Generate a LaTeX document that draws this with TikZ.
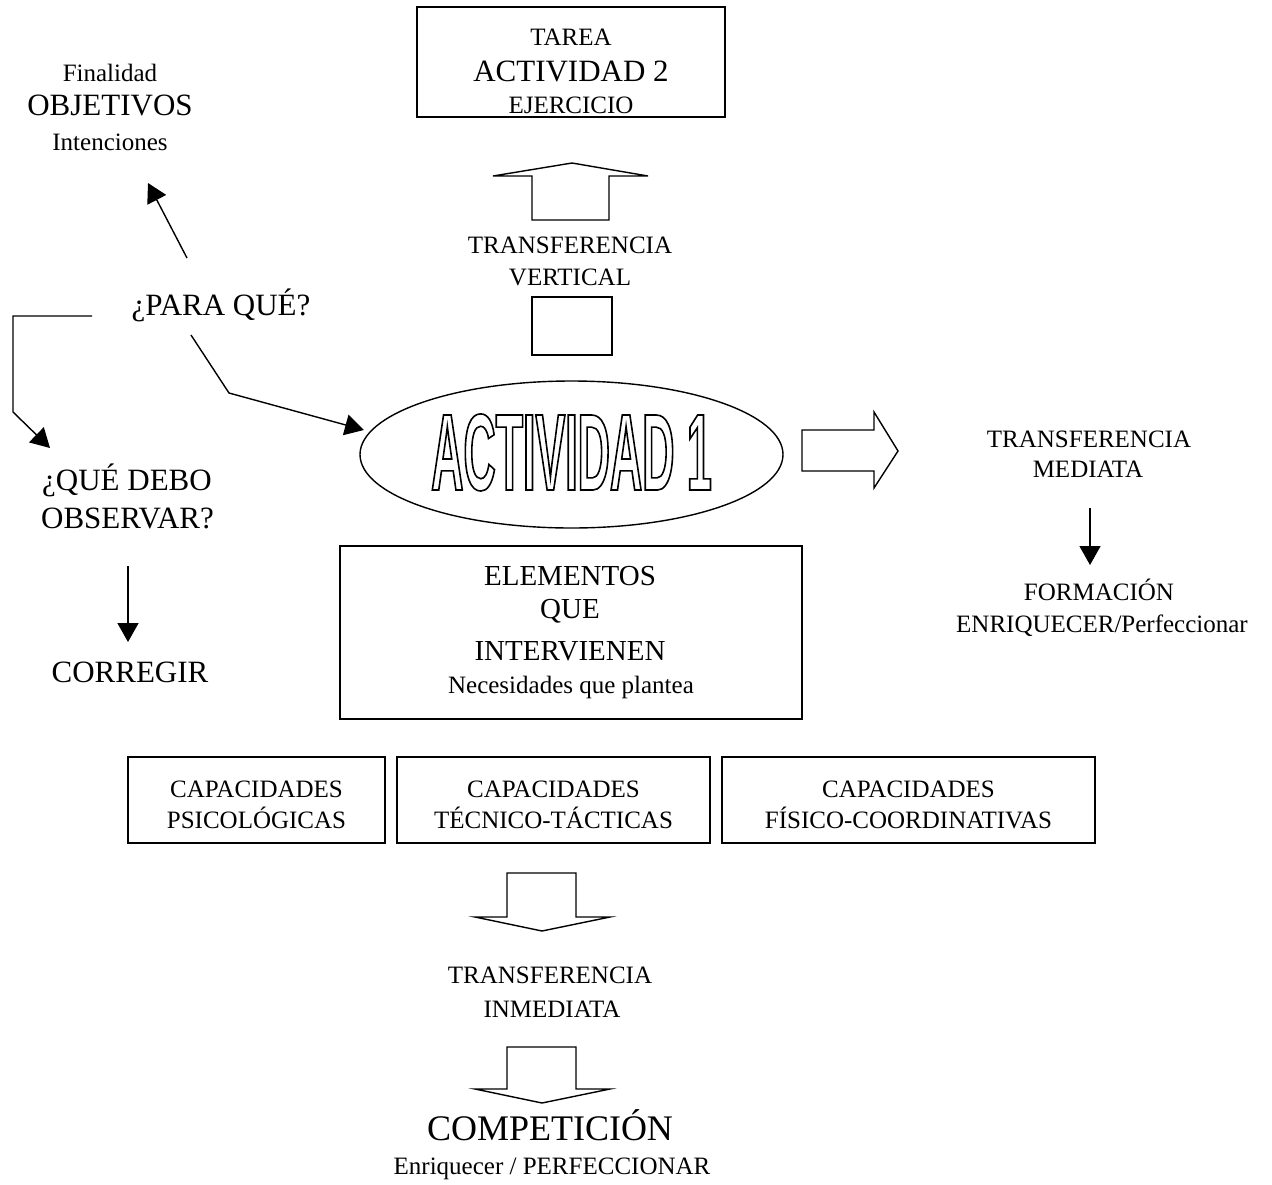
\documentclass[tikz,border=0pt]{standalone}
\usepackage{fontspec}
\setmainfont{Liberation Serif}
\newfontfamily\heavyfont[FakeStretch=0.41]{Liberation Sans}
\usetikzlibrary{shapes.geometric,arrows.meta}
% hollow (stroked) lettering through the PDF text render mode
\newcommand\hollowtext[1]{\special{pdf:literal direct 1 Tr 1.6 w}#1\special{pdf:literal direct 0 Tr}}

\begin{document}
\begin{tikzpicture}[x=1pt,y=-1pt,line width=1.4pt,
  box/.style={draw,line width=1.4pt,inner sep=0},
  txt/.style={anchor=base,inner sep=0,font=\fontsize{25}{30}\selectfont},
  big/.style={anchor=base,inner sep=0,font=\fontsize{31}{36}\selectfont},
  huge/.style={anchor=base,inner sep=0,font=\fontsize{36}{40}\selectfont},
  mid/.style={anchor=base,inner sep=0,font=\fontsize{29}{34}\selectfont},
  tipped/.style={-{Triangle[length=19pt,width=21pt]},line width=1.4pt},
  blockarrow/.style={draw,line width=1.4pt,fill=white,line join=miter}]
\useasboundingbox (0,0) rectangle (1272,1184);

% ---- top box: ACTIVIDAD 2
\node[box,minimum width=308pt,minimum height=110pt] (tarea) at (571,62) {};
\node[txt] (tareaA) at (571,45) {TAREA};
\node[big] (tareaB) at (571,81) {ACTIVIDAD 2};
\node[txt] (tareaC) at (571,113) {EJERCICIO};

% ---- objectives
\node[txt] (fin) at (110,81) {Finalidad};
\node[big] (obj) at (110,115) {OBJETIVOS};
\node[txt] (int) at (110,150) {Intenciones};

% ---- para que
\node[big] (para) at (221,315) {¿PARA QUÉ?};
\coordinate (paraUp) at (187,258);
\coordinate (objTip) at (148,183);
\draw[tipped] (paraUp) -- (objTip);

\coordinate (paraL) at (92,316);
\coordinate (obsTip) at (50,448);
\draw[tipped] (paraL) -- (13,316) -- (13,412) -- (obsTip);

\coordinate (paraD) at (191,335);
\coordinate (actTip) at (364,430);
\draw[tipped] (paraD) -- (229,393) -- (actTip);

% ---- observe / correct
\node[big] (obs1) at (127,490) {¿QUÉ DEBO};
\node[big] (obs2) at (127.5,528) {OBSERVAR?};
\node[big] (corr) at (130,682) {CORREGIR};
\coordinate (obsDown) at (128,566);
\coordinate (corrTip) at (128,642);
\draw[tipped] (obsDown) -- (corrTip);

% ---- vertical transfer
\draw[blockarrow] (493,176) -- (572,163) -- (648,176) -- (609,176) -- (609,220)
  -- (532,220) -- (532,176) -- cycle;
\node[txt] (tv1) at (570,253) {TRANSFERENCIA};
\node[txt] (tv2) at (570,285) {VERTICAL};
\node[box,minimum width=80pt,minimum height=58pt] (small) at (572,326) {};

% ---- central activity
\node[draw,ellipse,line width=1.4pt,minimum width=423pt,minimum height=147pt,inner sep=0] (act) at (571.5,454.5) {};
\node[anchor=base,inner sep=0] (actText) at (571.5,490)
  {\heavyfont\bfseries\fontsize{109}{109}\selectfont\hollowtext{ACTIVIDAD 1}};

% ---- mediate transfer
\draw[blockarrow] (802,430) -- (874,430) -- (874,412) -- (898,451) -- (874,488)
  -- (874,471) -- (802,471) -- cycle;
\node[txt] (tm1) at (1089,447) {TRANSFERENCIA};
\node[txt] (tm2) at (1088,477) {MEDIATA};
\coordinate (tmDown) at (1090,508);
\coordinate (formTip) at (1090,565);
\draw[tipped] (tmDown) -- (formTip);
\node[txt] (form1) at (1099,600) {FORMACIÓN};
\node[txt] (form2) at (1102,632) {ENRIQUECER/Perfeccionar};

% ---- elements
\node[box,minimum width=462pt,minimum height=173pt] (elem) at (571,632.5) {};
\node[mid] (el1) at (570,585) {ELEMENTOS};
\node[mid] (el2) at (570,618) {QUE};
\node[mid] (el3) at (570,660) {INTERVIENEN};
\node[txt] (el4) at (571,693) {Necesidades que plantea};

% ---- capacities
\node[box,minimum width=257pt,minimum height=86pt] (cap1) at (256.5,800) {};
\node[box,minimum width=313pt,minimum height=86pt] (cap2) at (553.5,800) {};
\node[box,minimum width=373pt,minimum height=86pt] (cap3) at (908.5,800) {};
\node[txt] (c1a) at (256.5,797) {CAPACIDADES};
\node[txt] (c1b) at (256.5,828) {PSICOLÓGICAS};
\node[txt] (c2a) at (553.5,797) {CAPACIDADES};
\node[txt] (c2b) at (553.5,828) {TÉCNICO-TÁCTICAS};
\node[txt] (c3a) at (908.5,797) {CAPACIDADES};
\node[txt] (c3b) at (908.5,828) {FÍSICO-COORDINATIVAS};

% ---- immediate transfer
\draw[blockarrow] (507,873) -- (576,873) -- (576,917) -- (610,917) -- (542,931)
  -- (475,917) -- (507,917) -- cycle;
\node[txt] (ti1) at (550,983) {TRANSFERENCIA};
\node[txt] (ti2) at (552,1017) {INMEDIATA};
\draw[blockarrow] (507,1047) -- (576,1047) -- (576,1089) -- (610,1089) -- (542,1103)
  -- (475,1089) -- (507,1089) -- cycle;
\node[huge] (comp) at (550,1140) {COMPETICIÓN};
\node[txt] (comp2) at (552,1174) {Enriquecer / PERFECCIONAR};
\end{tikzpicture}
\end{document}
